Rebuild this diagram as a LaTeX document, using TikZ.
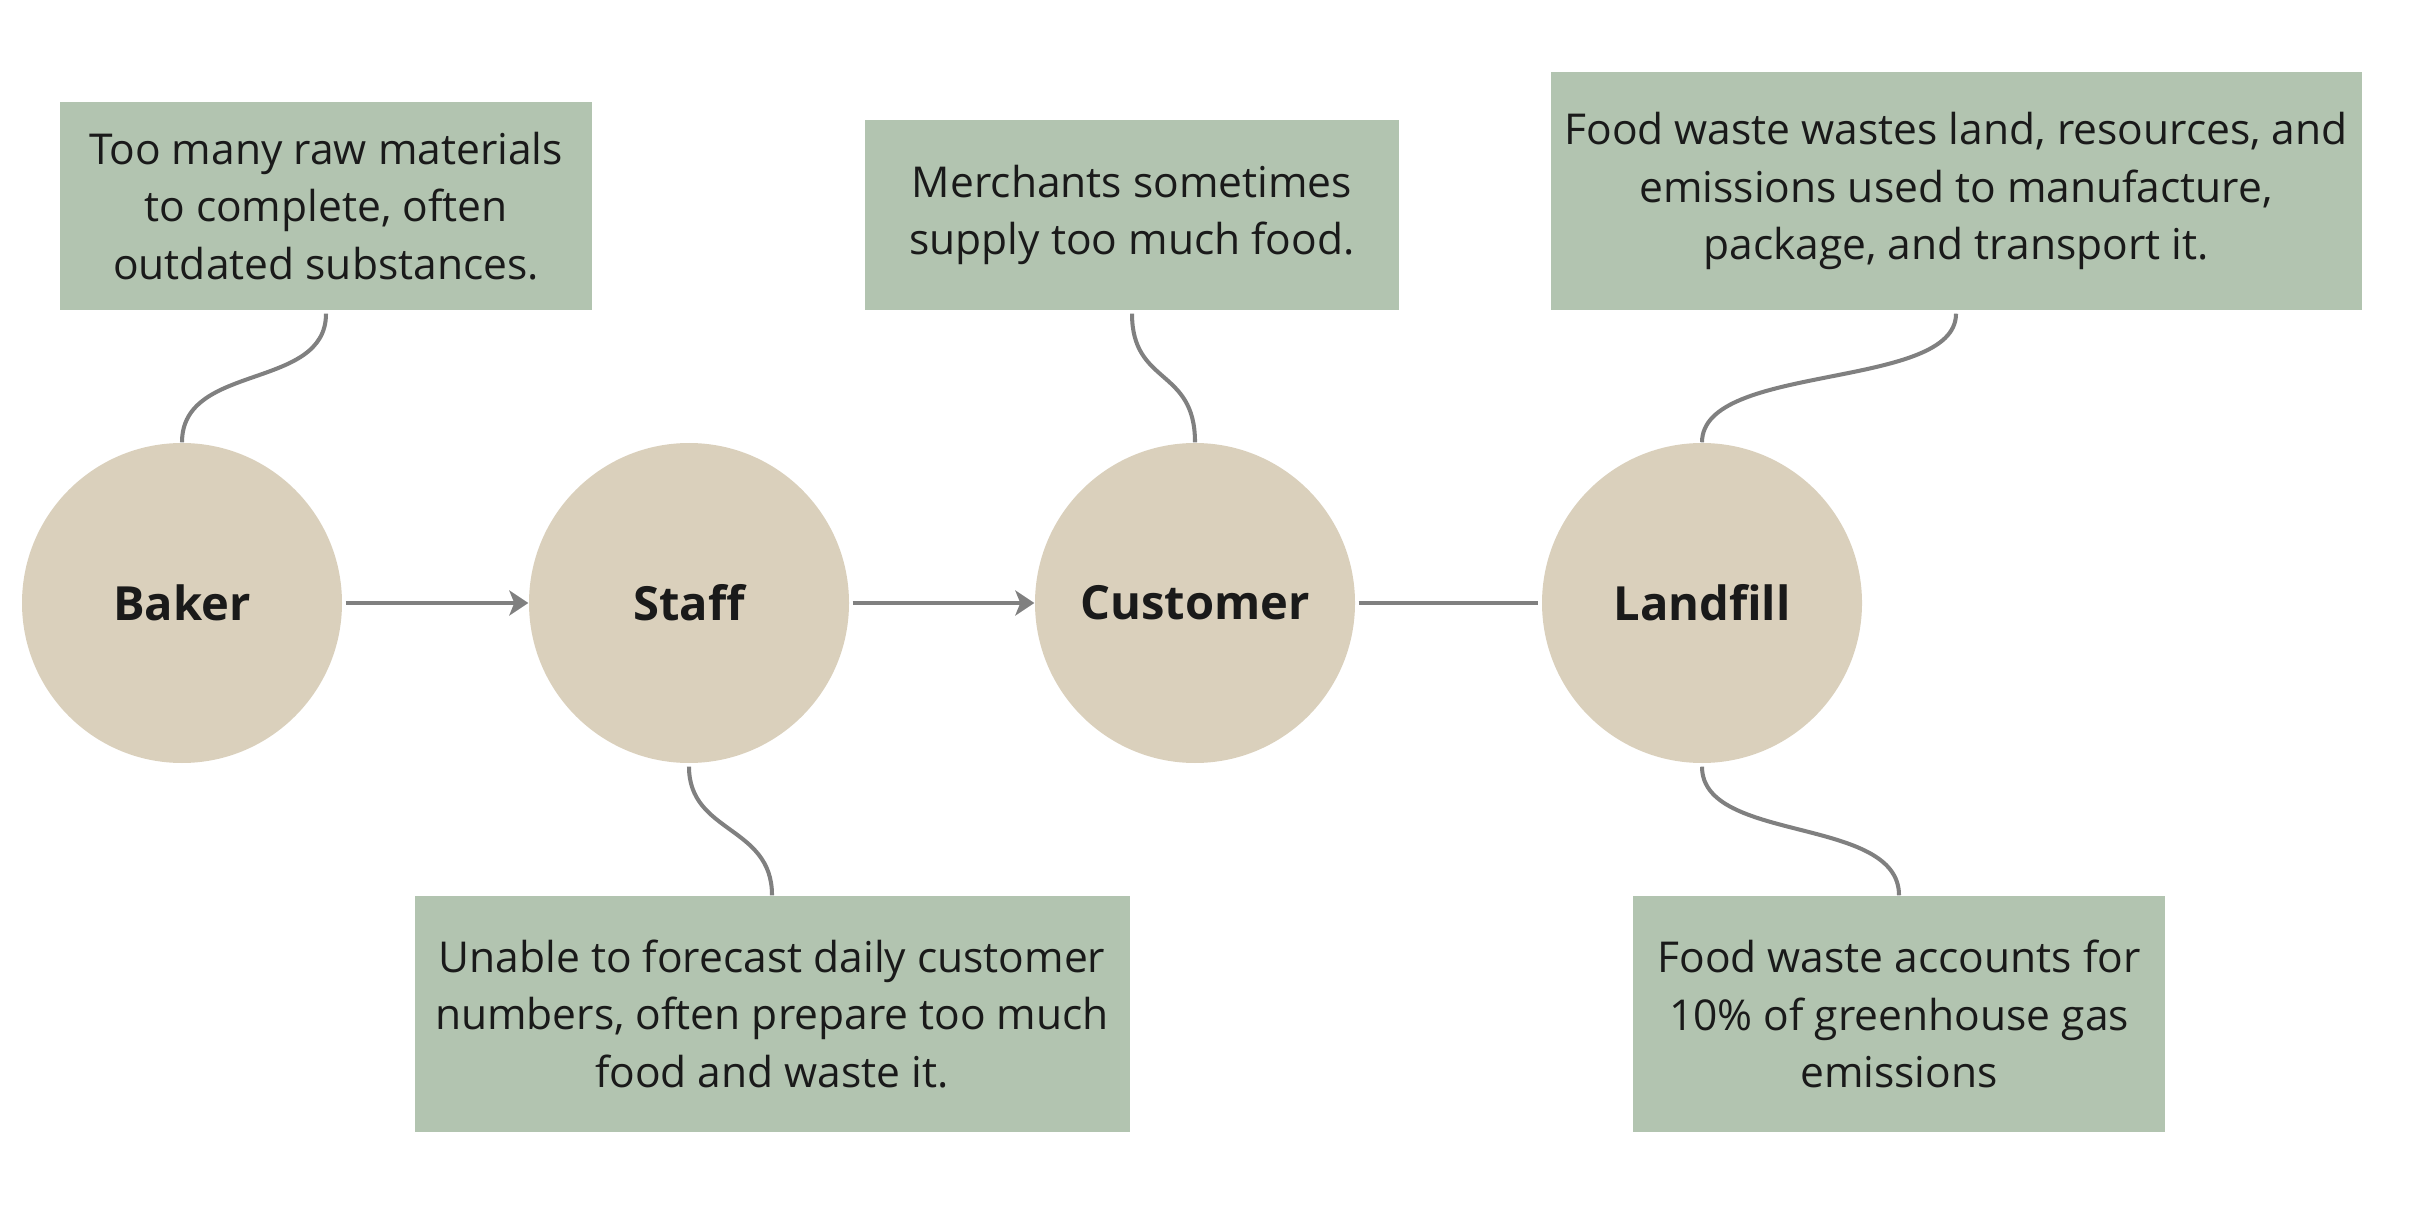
\documentclass[tikz,border=0pt]{standalone}
\usepackage{fontspec}
\setmainfont{Open Sans}
\usetikzlibrary{positioning,arrows.meta}
\definecolor{boxgreen}{HTML}{B2C4B0}
\definecolor{stagebeige}{HTML}{DAD0BC}
\definecolor{linegrey}{HTML}{808080}
\definecolor{inkblack}{HTML}{1A1A1A}
\newcommand{\notefont}{\fontsize{12.1pt}{16.4pt}\selectfont}

\begin{document}
\begin{tikzpicture}[x=0.1mm,y=-0.1mm]
 \tikzset{stage/.style={circle,fill=stagebeige,minimum size=32mm,inner sep=0pt,text=inkblack,font=\fontsize{13.4pt}{15pt}\selectfont\bfseries},
  note/.style={rectangle,fill=boxgreen,inner sep=0pt,align=center,text=inkblack,font=\notefont},
  arrow/.style={linegrey,line width=1.15pt,shorten <=0.3mm,-{Stealth[length=1.9mm,width=2.5mm,inset=0.5mm]}},
  link/.style={linegrey,line width=1.15pt,shorten <=0.3mm}}
 \useasboundingbox (0,0) rectangle (2418,1215);
 \node[stage] (baker) at (182,603) {Baker};
 \node[stage] (staff) at (689,603) {Staff};
 \node[stage] (customer) at (1195,603) {Customer};
 \node[stage] (landfill) at (1702,603) {Landfill};

 \node[note,minimum width=53.2mm,minimum height=20.8mm] (bakernote) at (326,206)
  {Too many raw materials\\to complete, often\\outdated substances.};
 \node[note,minimum width=53.4mm,minimum height=19mm] (customernote) at (1132,215)
  {Merchants sometimes\\supply too much food.};
 \node[note,minimum width=81.1mm,minimum height=23.8mm] (landfillnote) at (1956,191)
  {Food waste wastes land, resources, and\\emissions used to manufacture,\\package, and transport it.};
 \node[note,minimum width=71.5mm,minimum height=23.6mm] (staffnote) at (772,1014)
  {Unable to forecast daily customer\\numbers, often prepare too much\\food and waste it.};
 \node[note,minimum width=53.2mm,minimum height=23.6mm] (emissionnote) at (1899,1014)
  {Food waste accounts for\\10\% of greenhouse gas\\emissions};

 \draw[arrow] (baker) to (staff);
 \draw[arrow] (staff) to (customer);
 \draw[link,shorten >=0.3mm] (customer) to (landfill);

 \draw[link] (bakernote.south) .. controls +(0,80) and +(0,-80) .. (baker.north);
 \draw[link] (customernote.south) .. controls +(0,75) and +(0,-75) .. (customer.north);
 \draw[link] (landfillnote.south) .. controls +(0,80) and +(0,-80) .. (landfill.north);
 \draw[link] (staff.south) .. controls +(0,70) and +(0,-70) .. (staffnote.north);
 \draw[link] (landfill.south) .. controls +(0,80) and +(0,-80) .. (emissionnote.north);
\end{tikzpicture}
\end{document}
